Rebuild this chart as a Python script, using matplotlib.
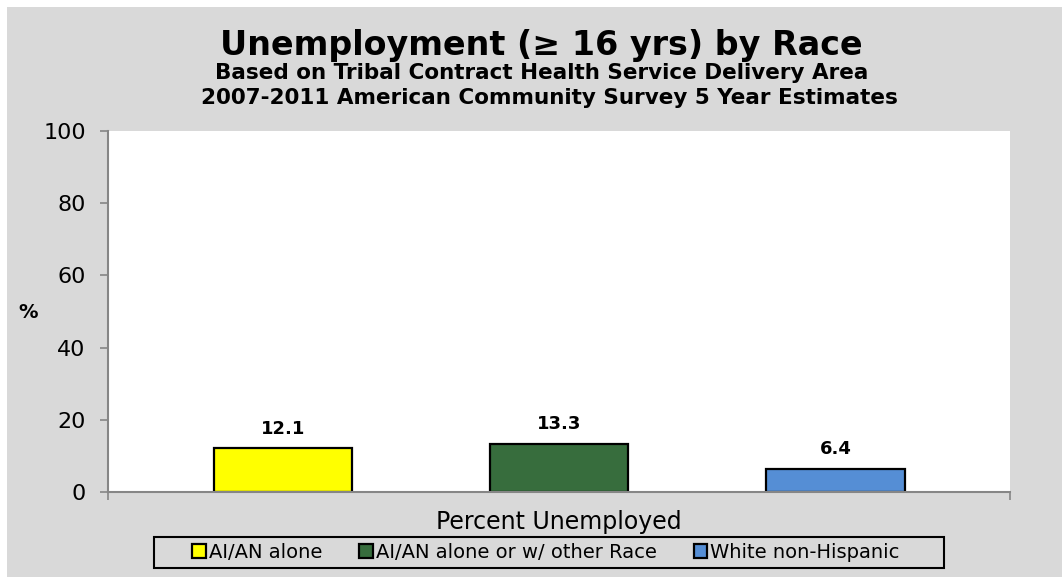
import matplotlib.pyplot as plt
from matplotlib.patches import Rectangle

plt.rcParams['font.family'] = ['DejaVu Sans']

groups = ["AI/AN alone", "AI/AN alone or w/ other Race", "White non-Hispanic"]
values = [12.1, 13.3, 6.4]
colors = ["#ffff00", "#376d3d", "#558ed5"]
yticks = [0, 20, 40, 60, 80, 100]

fig = plt.figure(figsize=(10.62, 5.77), dpi=100)
fig.patch.set_facecolor("white")
# gray chart area with thin white frame top/left
fig.patches.append(Rectangle((7 / 1062, 0), 1, 1 - 7 / 577, transform=fig.transFigure,
                             facecolor="#d9d9d9", edgecolor="none", zorder=-10))
# legend box (drawn separately to get the wide side padding)
fig.patches.append(Rectangle((154 / 1062, 1 - 568 / 577), 790 / 1062, 31 / 577,
                             transform=fig.transFigure, facecolor="none",
                             edgecolor="black", linewidth=1.5, zorder=-5))

ax = fig.add_axes([0.1017, 0.147, 0.849, 0.626])
ax.set_facecolor("white")

for i, (g, v, c) in enumerate(zip(groups, values, colors)):
    ax.bar(i, v, width=0.5, color=c, edgecolor="black", linewidth=1.6, label=g, zorder=2)
    ax.text(i, v + 3.0, f"{v:.1f}", ha="center", va="bottom", fontsize=13, fontweight="bold")

ax.set_xlim(-0.633, 2.63)
ax.set_ylim(0, 100)
ax.set_yticks(yticks)
ax.tick_params(axis="y", labelsize=16, length=6, color="#868686", width=1.2, pad=10)
ax.set_xticks([-0.633, 2.63])
ax.set_xticklabels([])
ax.tick_params(axis="x", length=6, color="#868686", width=1.2)

for s in ["top", "right"]:
    ax.spines[s].set_visible(False)
for s in ["left", "bottom"]:
    ax.spines[s].set_color("#868686")
    ax.spines[s].set_linewidth(1.5)
    ax.spines[s].set_zorder(3)

ax.set_xlabel("Percent Unemployed", fontsize=17, labelpad=3)
fig.text(18 / 1062, 1 - 313 / 577, "%", fontsize=14, fontweight="bold", ha="left", va="center")

fig.text(0.510, 1 - 45 / 577, "Unemployment (\u2265 16 yrs) by Race", fontsize=24,
         fontweight="bold", ha="center", va="center")
fig.text(0.510, 1 - 73 / 577, "Based on Tribal Contract Health Service Delivery Area",
         fontsize=15.5, fontweight="bold", ha="center", va="center")
fig.text(0.517, 1 - 98 / 577, "2007-2011 American Community Survey 5 Year Estimates",
         fontsize=15.5, fontweight="bold", ha="center", va="center")

leg = fig.legend(loc="center", bbox_to_anchor=(546 / 1062, 1 - 552 / 577), ncol=3,
                 fontsize=14, frameon=False, handlelength=0.7,
                 handleheight=0.7, handletextpad=0.15, columnspacing=1.9,
                 borderpad=0.2, borderaxespad=0)

fig.savefig("out.png", dpi=100, facecolor=fig.get_facecolor())
